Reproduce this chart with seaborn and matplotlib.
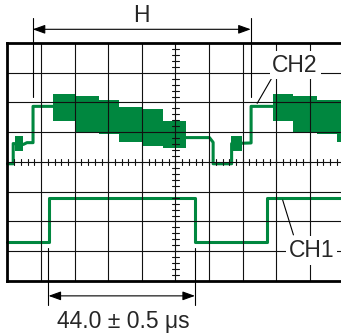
import matplotlib
matplotlib.use("Agg")
import matplotlib.pyplot as plt
import seaborn as sns
import pandas as pd
import numpy as np

# eixo x em microssegundos (10 us/div), eixo y em divisoes
ch1_t = [0, 12.3, 12.3, 55.8, 55.8, 77.1, 77.1, 104]
ch1_v = [1.32, 1.32, 2.78, 2.78, 1.32, 1.32, 2.78, 2.78]

# CH2: dois trechos da linha (antes e depois do burst)
ch2_seg = [0] * 8 + [1] * 9
ch2_t = [0, 1.7, 1.7, 4.7, 5.8, 7.6, 7.6, 13.8,
         53.0, 60.1, 61.2, 61.2, 66.7, 66.7, 72.5, 72.5, 79.0]
ch2_v = [3.94, 3.94, 4.62, 4.59, 4.65, 4.65, 5.87, 5.87,
         4.82, 4.82, 4.66, 3.94, 3.94, 4.62, 4.64, 5.87, 5.87]

# blocos pequenos na subida do CH2
pulse_t0 = [2.2, 66.5]
pulse_t1 = [4.7, 69.7]
pulse_lo = [4.38, 4.38]
pulse_hi = [4.87, 4.87]

# faixa larga (burst) do CH2
burst_t0 = [13.6, 20.2, 27.2, 33.3, 40.0, 46.2, 78.9, 85.1, 92.0, 98.0]
burst_t1 = [20.2, 27.2, 33.3, 40.0, 46.2, 53.1, 85.1, 92.0, 98.0, 104.0]
burst_lo = [5.39, 5.02, 4.93, 4.68, 4.54, 4.48, 5.39, 5.02, 4.93, 4.68]
burst_hi = [6.29, 6.22, 6.08, 5.84, 5.78, 5.39, 6.29, 6.22, 6.08, 6.08]

verde = '#00873F'
fonte = 'Liberation Sans'

sns.set_style("white")
fig = plt.figure(figsize=(3.41, 3.36), dpi=100)
ax = fig.add_axes([0, 0, 1, 1])

df1 = pd.DataFrame({'t': ch1_t, 'v': ch1_v})
sns.lineplot(data=df1, x='t', y='v', sort=False, estimator=None,
             color=verde, lw=2.2, ax=ax, zorder=2)

df2 = pd.DataFrame({'t': ch2_t, 'v': ch2_v, 'seg': ch2_seg})
sns.lineplot(data=df2, x='t', y='v', units='seg', sort=False, estimator=None,
             color=verde, lw=2.2, ax=ax, zorder=2)

# burst e pulsos como retangulos
ax.bar(burst_t0, np.subtract(burst_hi, burst_lo), bottom=burst_lo,
       width=np.subtract(burst_t1, burst_t0), align='edge',
       color=verde, lw=0, zorder=2)
ax.bar(pulse_t0, np.subtract(pulse_hi, pulse_lo), bottom=pulse_lo,
       width=np.subtract(pulse_t1, pulse_t0), align='edge',
       color=verde, lw=0, zorder=2)

# grade do osciloscopio
ax.vlines(np.arange(10, 100, 10), 0, 8, color='#111111', lw=0.8, zorder=3)
ax.hlines(np.arange(1, 8), 0, 110, color='#111111', lw=0.8, zorder=3)
ax.hlines([0, 8], 0, 110, color='black', lw=2, zorder=4, capstyle='projecting')
ax.vlines([0], 0, 8, color='black', lw=2, zorder=4, capstyle='projecting')

# marcas menores nos eixos centrais
for t in np.arange(0, 101, 2):
    ax.plot([t, t], [3.9, 4.1], color='#111111', lw=0.8, zorder=3)
for v in np.arange(0, 8.01, 0.2):
    ax.plot([48.95, 51.05], [v, v], color='#111111', lw=0.8, zorder=3)

# cota H
ax.plot([7.5, 7.5], [6.18, 8.84], color='black', lw=0.8, zorder=5)
ax.plot([72.4, 72.4], [6.18, 8.84], color='black', lw=0.8, zorder=5)
ax.annotate('', xy=(7.5, 8.46), xytext=(72.4, 8.46),
            arrowprops=dict(arrowstyle='<|-|>,head_length=0.75,head_width=0.27',
                            mutation_scale=10, color='black', lw=0.8,
                            shrinkA=0, shrinkB=0), zorder=5)
ax.text(39.9, 8.92, 'H', ha='center', va='center', fontsize=16.5,
        family=fonte, zorder=5)

# cota inferior
ax.plot([12.2, 12.2], [-0.81, 1.11], color='black', lw=0.8, zorder=5)
ax.plot([55.8, 55.8], [-0.81, 1.11], color='black', lw=0.8, zorder=5)
ax.annotate('', xy=(12.2, -0.5), xytext=(55.8, -0.5),
            arrowprops=dict(arrowstyle='<|-|>,head_length=0.75,head_width=0.27',
                            mutation_scale=10, color='black', lw=0.8,
                            shrinkA=0, shrinkB=0), zorder=5)
ax.text(34.5, -1.37, '44.0 ± 0.5 μs', ha='center', va='center',
        fontsize=16.5, family=fonte, zorder=5)

# rotulos dos canais
ax.plot([74.3, 78.6], [5.97, 6.81], color='black', lw=0.8, zorder=5)
ax.text(85.6, 7.26, 'CH2', ha='center', va='center', fontsize=16.5,
        family=fonte, zorder=6,
        bbox=dict(boxstyle='square,pad=0.12', fc='white', ec='none'))
ax.plot([81.9, 85.1], [2.72, 1.55], color='black', lw=0.8, zorder=5)
ax.text(90.4, 1.02, 'CH1', ha='center', va='center', fontsize=16.5,
        family=fonte, zorder=6,
        bbox=dict(boxstyle='square,pad=0.12', fc='white', ec='none'))

ax.set_xlim(-2.232, 99.256)
ax.set_ylim(-1.849, 9.445)
ax.set_axis_off()

fig.savefig('out.png', dpi=100)
